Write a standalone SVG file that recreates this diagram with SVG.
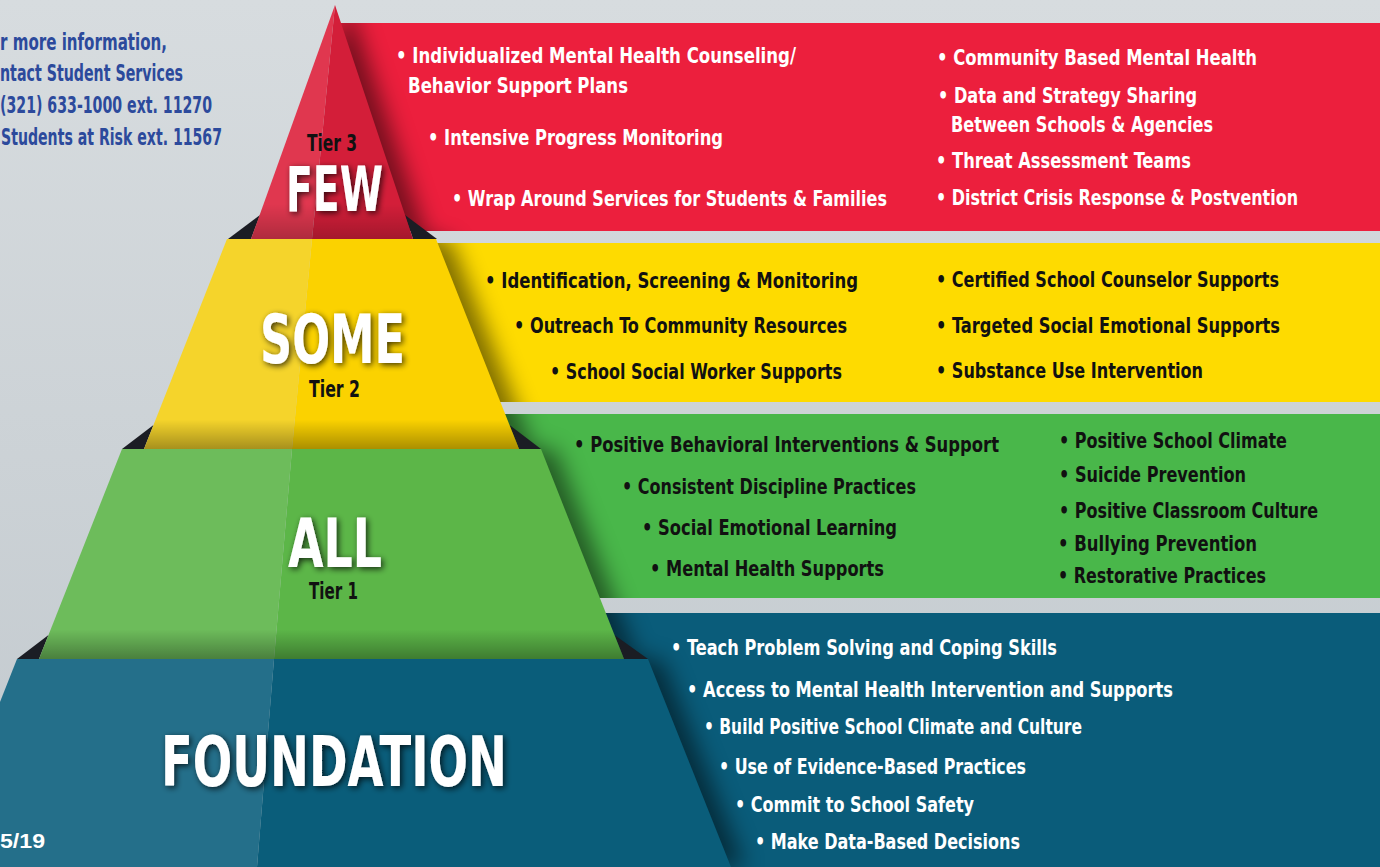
<svg xmlns="http://www.w3.org/2000/svg" width="1380" height="867" viewBox="0 0 1380 867">
<style>
.b{font-family:"DejaVu Sans Condensed","DejaVu Sans","Liberation Sans",sans-serif;font-stretch:condensed;font-weight:bold;font-size:22px}
.w{fill:#ffffff}
.k{fill:#111111}
.info{font-family:"DejaVu Sans Condensed","DejaVu Sans","Liberation Sans",sans-serif;font-stretch:condensed;font-weight:bold;font-size:23px;fill:#2c4a9c}
.big{font-family:"DejaVu Sans Condensed","DejaVu Sans","Liberation Sans",sans-serif;font-stretch:condensed;font-weight:bold;fill:#ffffff}
.tier{font-family:"DejaVu Sans Condensed","DejaVu Sans","Liberation Sans",sans-serif;font-stretch:condensed;font-weight:bold;font-size:23px;fill:#111111}
.corner{fill:#1b1d24}
.shade{fill:url(#bottomShade)}
</style>
<defs>
<linearGradient id="bg" x1="0" y1="0" x2="0" y2="1">
<stop offset="0" stop-color="#d7dcdf"/>
<stop offset="1" stop-color="#c2c9ce"/>
</linearGradient>
<linearGradient id="bottomShade" x1="0" y1="0" x2="0" y2="1">
<stop offset="0" stop-color="#000" stop-opacity="0"/>
<stop offset="0.86" stop-color="#000" stop-opacity="0"/>
<stop offset="1" stop-color="#000" stop-opacity="0.32"/>
</linearGradient>
<linearGradient id="redShade" x1="0" y1="0" x2="0" y2="1">
<stop offset="0" stop-color="#000" stop-opacity="0"/>
<stop offset="0.85" stop-color="#000" stop-opacity="0"/>
<stop offset="1" stop-color="#000" stop-opacity="0.22"/>
</linearGradient>
<clipPath id="panelClip">
<rect x="340" y="23" width="1040" height="208"/>
<rect x="380" y="243" width="1000" height="159"/>
<rect x="470" y="414" width="910" height="184"/>
<rect x="560" y="613" width="820" height="254"/>
</clipPath>
<filter id="blur" x="-20%" y="-20%" width="140%" height="140%">
<feGaussianBlur stdDeviation="11"/>
</filter>
<filter id="ts" x="-20%" y="-30%" width="140%" height="160%">
<feGaussianBlur in="SourceAlpha" stdDeviation="3"/>
<feOffset dx="2" dy="2" result="o"/>
<feComponentTransfer><feFuncA type="linear" slope="0.75"/></feComponentTransfer>
<feMerge><feMergeNode/><feMergeNode in="SourceGraphic"/></feMerge>
</filter>
</defs>

<rect id="background" x="0" y="0" width="1380" height="867" fill="url(#bg)"/>

<g id="panels">
<rect id="panel-red" x="340" y="23" width="1040" height="208" fill="#ec1f3d"/>
<rect id="panel-yellow" x="380" y="243" width="1000" height="159" fill="#fedb00"/>
<rect id="panel-green" x="470" y="414" width="910" height="184" fill="#49b74a"/>
<rect id="panel-blue" x="560" y="613" width="820" height="254" fill="#0a5c7a"/>
</g>

<g id="panel-shadows" clip-path="url(#panelClip)">
<g filter="url(#blur)" opacity="0.5" transform="translate(14,0)">
<polygon points="335,5 251,239 413,239" fill="#000"/>
<polygon points="227,239 436,239 519,449 144,449" fill="#000"/>
<polygon points="122,449 541,449 624,659 39,659" fill="#000"/>
<polygon points="17,659 648,659 731,867 -65,867" fill="#000"/>
</g>
</g>

<g id="corners">
<polygon class="corner" points="260,215 228,239 251,239"/>
<polygon class="corner" points="405,215 437,239 413,239"/>
<polygon class="corner" points="153.5,425 122,449 144,449"/>
<polygon class="corner" points="509.5,425 541,449 519,449"/>
<polygon class="corner" points="48.5,635 17,659 39,659"/>
<polygon class="corner" points="614.5,635 648,659 624,659"/>
</g>

<g id="tier-foundation">
<polygon points="17,659 274,659 257,867 -65,867" fill="#246f8a"/>
<polygon points="274,659 648,659 731,867 257,867" fill="#0a5d7a"/>
</g>

<g id="tier-1">
<polygon points="122,449 292,449 274,659 39,659" fill="#6dbc5b"/>
<polygon points="292,449 541,449 624,659 274,659" fill="#5cb648"/>
<polygon class="shade" points="122,449 541,449 624,659 39,659"/>
</g>

<g id="tier-2">
<polygon points="227,239 312,239 292,449 144,449" fill="#f5d42b"/>
<polygon points="312,239 436,239 519,449 292,449" fill="#fbd200"/>
<polygon class="shade" points="227,239 436,239 519,449 144,449"/>
</g>

<g id="tier-3">
<polygon points="335,5 312,239 251,239" fill="#e0374f"/>
<polygon points="335,5 413,239 312,239" fill="#d31e39"/>
<polygon points="335,5 413,239 251,239" fill="url(#redShade)"/>
</g>

<g id="info">
<text class="info" x="0" y="50" textLength="167" lengthAdjust="spacingAndGlyphs">r more information,</text>
<text class="info" x="0" y="81" textLength="183" lengthAdjust="spacingAndGlyphs">ntact Student Services</text>
<text class="info" x="0" y="113" textLength="212" lengthAdjust="spacingAndGlyphs">(321) 633-1000 ext. 11270</text>
<text class="info" x="1" y="145" textLength="221" lengthAdjust="spacingAndGlyphs">Students at Risk ext. 11567</text>
</g>

<g id="tier-labels">
<text class="tier" x="307" y="151" textLength="50" lengthAdjust="spacingAndGlyphs">Tier 3</text>
<text class="big" x="286" y="211" font-size="62" textLength="97" lengthAdjust="spacingAndGlyphs" filter="url(#ts)">FEW</text>
<text class="big" x="260" y="363" font-size="68" textLength="145" lengthAdjust="spacingAndGlyphs" filter="url(#ts)">SOME</text>
<text class="tier" x="309" y="397" textLength="51" lengthAdjust="spacingAndGlyphs">Tier 2</text>
<text class="big" x="288" y="567" font-size="68" textLength="94" lengthAdjust="spacingAndGlyphs" filter="url(#ts)">ALL</text>
<text class="tier" x="309" y="599" textLength="49" lengthAdjust="spacingAndGlyphs">Tier 1</text>
<text class="big" x="161" y="786" font-size="70" textLength="346" lengthAdjust="spacingAndGlyphs" filter="url(#ts)">FOUNDATION</text>
</g>

<g id="items-tier3">
<text class="b w" x="396" y="63" textLength="400" lengthAdjust="spacingAndGlyphs">• Individualized Mental Health Counseling/</text>
<text class="b w" x="408" y="93" textLength="220" lengthAdjust="spacingAndGlyphs">Behavior Support Plans</text>
<text class="b w" x="428" y="145" textLength="295" lengthAdjust="spacingAndGlyphs">• Intensive Progress Monitoring</text>
<text class="b w" x="452" y="206" textLength="435" lengthAdjust="spacingAndGlyphs">• Wrap Around Services for Students &amp; Families</text>
<text class="b w" x="937" y="65" textLength="320" lengthAdjust="spacingAndGlyphs">• Community Based Mental Health</text>
<text class="b w" x="938" y="103" textLength="259" lengthAdjust="spacingAndGlyphs">• Data and Strategy Sharing</text>
<text class="b w" x="951" y="132" textLength="262" lengthAdjust="spacingAndGlyphs">Between Schools &amp; Agencies</text>
<text class="b w" x="936" y="168" textLength="255" lengthAdjust="spacingAndGlyphs">• Threat Assessment Teams</text>
<text class="b w" x="936" y="205" textLength="362" lengthAdjust="spacingAndGlyphs">• District Crisis Response &amp; Postvention</text>
</g>

<g id="items-tier2">
<text class="b k" x="485" y="288" textLength="373" lengthAdjust="spacingAndGlyphs">• Identification, Screening &amp; Monitoring</text>
<text class="b k" x="514" y="333" textLength="333" lengthAdjust="spacingAndGlyphs">• Outreach To Community Resources</text>
<text class="b k" x="550" y="379" textLength="292" lengthAdjust="spacingAndGlyphs">• School Social Worker Supports</text>
<text class="b k" x="936" y="287" textLength="343" lengthAdjust="spacingAndGlyphs">• Certified School Counselor Supports</text>
<text class="b k" x="936" y="333" textLength="344" lengthAdjust="spacingAndGlyphs">• Targeted Social Emotional Supports</text>
<text class="b k" x="936" y="378" textLength="267" lengthAdjust="spacingAndGlyphs">• Substance Use Intervention</text>
</g>

<g id="items-tier1">
<text class="b k" x="574" y="452" textLength="425" lengthAdjust="spacingAndGlyphs">• Positive Behavioral Interventions &amp; Support</text>
<text class="b k" x="622" y="494" textLength="294" lengthAdjust="spacingAndGlyphs">• Consistent Discipline Practices</text>
<text class="b k" x="642" y="535" textLength="255" lengthAdjust="spacingAndGlyphs">• Social Emotional Learning</text>
<text class="b k" x="650" y="576" textLength="234" lengthAdjust="spacingAndGlyphs">• Mental Health Supports</text>
<text class="b k" x="1059" y="448" textLength="228" lengthAdjust="spacingAndGlyphs">• Positive School Climate</text>
<text class="b k" x="1059" y="482" textLength="187" lengthAdjust="spacingAndGlyphs">• Suicide Prevention</text>
<text class="b k" x="1059" y="518" textLength="259" lengthAdjust="spacingAndGlyphs">• Positive Classroom Culture</text>
<text class="b k" x="1058" y="551" textLength="199" lengthAdjust="spacingAndGlyphs">• Bullying Prevention</text>
<text class="b k" x="1058" y="583" textLength="208" lengthAdjust="spacingAndGlyphs">• Restorative Practices</text>
</g>

<g id="items-foundation">
<text class="b w" x="671" y="655" textLength="386" lengthAdjust="spacingAndGlyphs">• Teach Problem Solving and Coping Skills</text>
<text class="b w" x="687" y="697" textLength="486" lengthAdjust="spacingAndGlyphs">• Access to Mental Health Intervention and Supports</text>
<text class="b w" x="704" y="734" textLength="378" lengthAdjust="spacingAndGlyphs">• Build Positive School Climate and Culture</text>
<text class="b w" x="719" y="774" textLength="307" lengthAdjust="spacingAndGlyphs">• Use of Evidence-Based Practices</text>
<text class="b w" x="735" y="812" textLength="239" lengthAdjust="spacingAndGlyphs">• Commit to School Safety</text>
<text class="b w" x="755" y="849" textLength="265" lengthAdjust="spacingAndGlyphs">• Make Data-Based Decisions</text>
</g>

<text id="date" x="0" y="848" font-family="'Liberation Sans',Arial,sans-serif" font-weight="bold" font-size="20" fill="#ffffff" textLength="45" lengthAdjust="spacingAndGlyphs">5/19</text>
</svg>
